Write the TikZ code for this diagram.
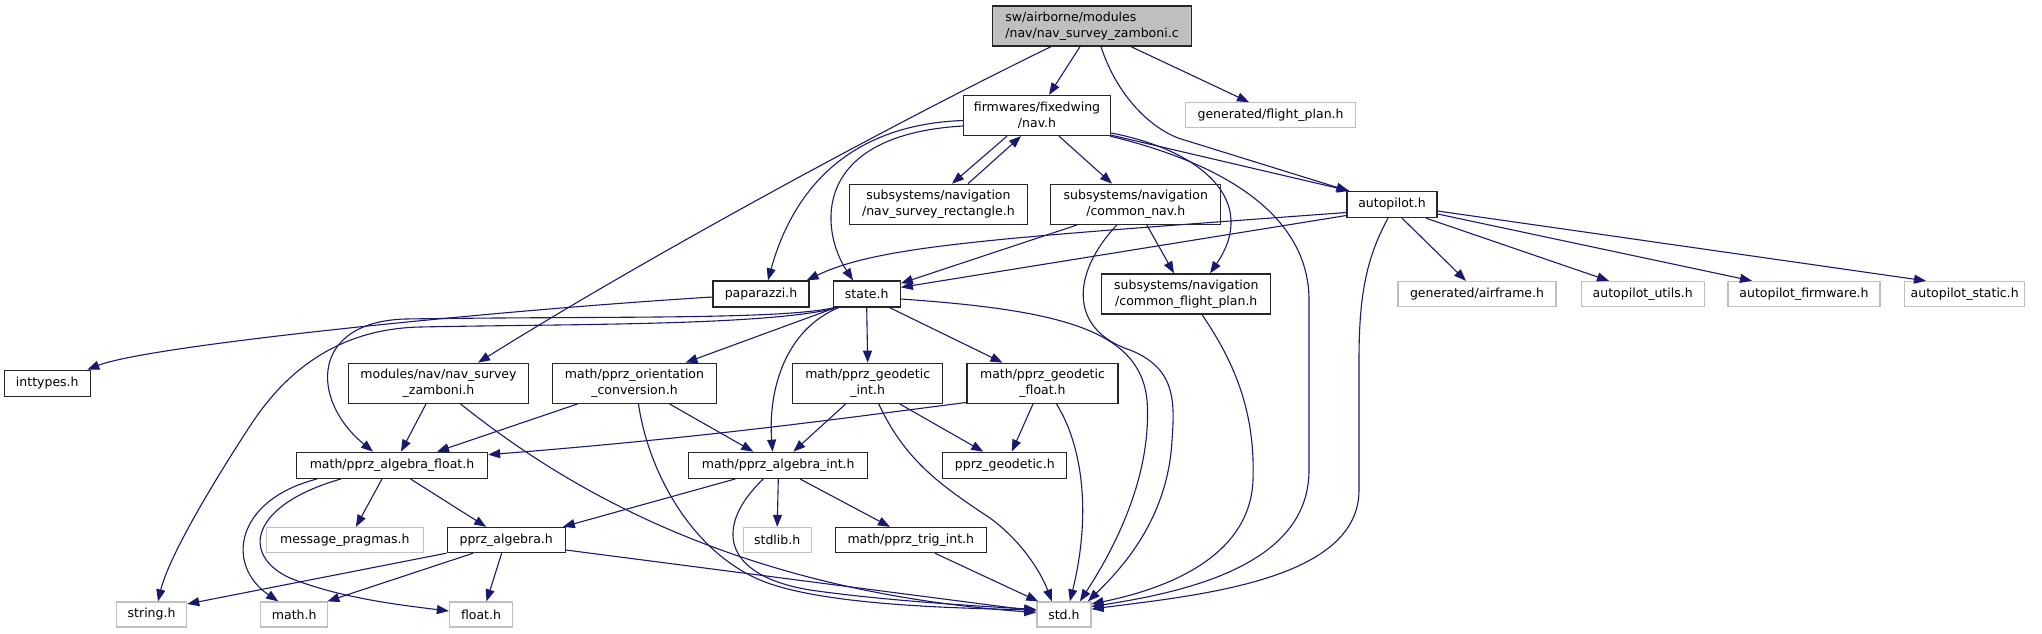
\documentclass[tikz,border=0pt]{standalone}
\usepackage{fontspec}
\newfontfamily\nodefont{DejaVu Sans}
\usetikzlibrary{arrows.meta}
\definecolor{edgecol}{HTML}{191970}
\definecolor{rootfill}{HTML}{BFBFBF}
\definecolor{grayline}{HTML}{BFBFBF}
\begin{document}
\begin{tikzpicture}[x=1pt,y=-1pt,
  nd/.style={draw=black!85, line width=1.3pt, fill=white, minimum height=26pt, inner sep=0pt,
    font={\nodefont\fontsize{12.5pt}{15.5pt}\selectfont}, align=center},
  ndd/.style={nd, minimum height=40pt},
  gry/.style={nd, draw=grayline, minimum height=25pt},
  dep/.style={draw=edgecol, line width=1.1pt, -{Triangle[length=12pt,width=9pt]}}]
\useasboundingbox (0,0) rectangle (2042,633);
% nodes
\node[ndd, fill=rootfill, align=left, minimum width=199pt] (root) at (1092,26) {sw/airborne/modules\\/nav/nav\_survey\_zamboni.c};
\node[ndd, minimum width=147pt] (nav) at (1037,115.5) {firmwares/fixedwing\\/nav.h};
\node[gry, minimum width=170pt] (fplan) at (1270.6,115.3) {generated/flight\_plan.h};
\node[ndd, minimum width=178pt] (rect) at (938.4,204.3) {subsystems/navigation\\/nav\_survey\_rectangle.h};
\node[ndd, minimum width=170pt] (cnav) at (1135.8,204.3) {subsystems/navigation\\/common\_nav.h};
\node[nd, minimum width=90pt] (autopilot) at (1392,204.5) {autopilot.h};
\node[nd, minimum width=96pt] (paparazzi) at (761,294) {paparazzi.h};
\node[nd, minimum width=67pt] (state) at (866.7,294) {state.h};
\node[ndd, minimum width=169pt] (cfp) at (1186.3,294) {subsystems/navigation\\/common\_flight\_plan.h};
\node[gry, minimum width=158pt] (airframe) at (1477,294) {generated/airframe.h};
\node[gry, minimum width=123pt] (aputils) at (1642.7,294) {autopilot\_utils.h};
\node[gry, minimum width=152pt] (apfirm) at (1804,294) {autopilot\_firmware.h};
\node[gry, minimum width=120pt] (apstatic) at (1964.7,294) {autopilot\_static.h};
\node[nd, minimum width=86pt] (inttypes) at (47.3,383.3) {inttypes.h};
\node[ndd, minimum width=180pt] (zamboni) at (438.5,383.3) {modules/nav/nav\_survey\\\_zamboni.h};
\node[ndd, minimum width=164pt] (orient) at (634.5,383.3) {math/pprz\_orientation\\\_conversion.h};
\node[ndd, minimum width=150pt] (geoint) at (867.7,383.3) {math/pprz\_geodetic\\\_int.h};
\node[ndd, minimum width=151pt] (geofloat) at (1042.5,383.3) {math/pprz\_geodetic\\\_float.h};
\node[nd, minimum width=191pt] (algfloat) at (392,465.3) {math/pprz\_algebra\_float.h};
\node[nd, minimum width=179pt] (algint) at (778.3,465.3) {math/pprz\_algebra\_int.h};
\node[nd, minimum width=124pt] (geodetic) at (1004.8,465.3) {pprz\_geodetic.h};
\node[gry, minimum width=157pt] (msgpr) at (344.9,540) {message\_pragmas.h};
\node[nd, minimum width=118pt, minimum height=25pt] (pprzalg) at (506.2,540) {pprz\_algebra.h};
\node[gry, minimum width=68pt] (stdlib) at (777.2,540) {stdlib.h};
\node[nd, minimum width=151pt, minimum height=25pt] (trigint) at (910.8,540) {math/pprz\_trig\_int.h};
\node[gry, minimum width=70pt] (string) at (151.6,614.5) {string.h};
\node[gry, minimum width=67pt] (math) at (294.2,614.5) {math.h};
\node[gry, minimum width=63pt] (float) at (481,614.5) {float.h};
\node[gry, minimum width=54pt] (std) at (1063.9,614.5) {std.h};
% edges from root
\draw[dep] ([xshift=-12pt]root.south) -- ([xshift=12pt]nav.north);
\draw[dep] ([xshift=39pt]root.south) -- ([xshift=-21.6pt]fplan.north);
\draw[dep] ([xshift=9pt]root.south) .. controls (1115,90) and (1145,125) .. (1178,138) -- ([xshift=2pt]autopilot.north west);
\draw[dep] ([xshift=-41pt]root.south) .. controls (900,120) and (650,255) .. ([xshift=39.5pt]zamboni.north);
% nav
\draw[dep] ([xshift=-30pt]nav.south) -- ([xshift=13.6pt]rect.north);
\draw[dep] ([xshift=29.6pt]rect.north) -- ([xshift=-16pt]nav.south);
\draw[dep] ([xshift=22pt]nav.south) -- ([xshift=-23.8pt]cnav.north);
\draw[dep] ([yshift=-5pt]nav.west) .. controls (840,125) and (790,200) .. ([xshift=7pt]paparazzi.north);
\draw[dep] ([yshift=-10.5pt]nav.west) .. controls (810,135) and (820,230) .. ([xshift=-13.7pt]state.north);
\draw[dep] ([yshift=-17.5pt]nav.east) .. controls (1200,150) and (1260,200) .. ([xshift=23.7pt]cfp.north);
\draw[dep] ([xshift=-1pt]nav.south east) .. controls (1250,170) and (1309,230) .. (1309,300) -- (1309,470) .. controls (1309,560) and (1200,590) .. ([yshift=8pt]std.east);
\draw[dep] ([yshift=1pt]nav.south east) -- ([xshift=3pt]autopilot.north west);
% common_nav
\draw[dep] ([xshift=-58.8pt]cnav.south) -- ([yshift=-3pt]state.north east);
\draw[dep] ([xshift=11pt]cnav.south) -- ([xshift=-12.3pt]cfp.north);
\draw[dep] ([xshift=-19pt]cnav.south) .. controls (1070,275) and (1070,330) .. (1130,350) .. controls (1175,368) and (1175,400) .. (1172,440) .. controls (1168,520) and (1120,570) .. ([xshift=24pt]std.north);
% common_flight_plan
\draw[dep] ([xshift=15.7pt]cfp.south) .. controls (1240,370) and (1255,420) .. (1253,480) .. controls (1250,560) and (1160,590) .. ([yshift=10.5pt]std.east);
% autopilot
\draw[dep] ([xshift=-4pt]autopilot.south) .. controls (1365,260) and (1359,300) .. (1359,360) -- (1359,490) .. controls (1359,580) and (1200,595) .. ([yshift=5.5pt]std.east);
\draw[dep] ([yshift=-8pt]autopilot.west) .. controls (1000,238) and (880,245) .. ([xshift=-3pt]paparazzi.north east);
\draw[dep] ([yshift=-11pt]autopilot.west) -- ([yshift=-7pt]state.north east);
\draw[dep] ([xshift=10pt]autopilot.south) -- ([xshift=-11pt]airframe.north);
\draw[dep] ([xshift=34pt]autopilot.south) -- ([xshift=-33.7pt]aputils.north);
\draw[dep] ([yshift=-9.5pt]autopilot.east) -- ([xshift=-52pt]apfirm.north);
\draw[dep] ([yshift=-6.5pt]autopilot.east) -- ([xshift=-38.7pt]apstatic.north);
% paparazzi
\draw[dep] ([yshift=-3pt]paparazzi.west) .. controls (500,310) and (150,345) .. ([xshift=40pt]inttypes.north);
% state
\draw[dep] ([xshift=3pt]state.south west) -- ([xshift=51pt]orient.north);
\draw[dep] ([xshift=6pt]state.south west) .. controls (785,330) and (768,390) .. ([xshift=-5.8pt]algint.north);
\draw[dep] (state.south) -- (geoint.north);
\draw[dep] ([xshift=23pt]state.south) -- ([xshift=-40pt]geofloat.north);
\draw[dep] ([yshift=-5pt]state.east) .. controls (1060,310) and (1140,330) .. (1147,400) .. controls (1152,470) and (1120,540) .. ([xshift=16pt]std.north);
\draw[dep] ([xshift=1.5pt]state.south west) .. controls (780,320) and (600,316) .. (405,319) .. controls (310,322) and (310,400) .. ([xshift=-19pt]algfloat.north);
\draw[dep] ([xshift=1pt,yshift=-1pt]state.south west) .. controls (760,326) and (560,324) .. (420,327) .. controls (330,329) and (280,380) .. (250,426) .. controls (205,495) and (168,560) .. ([xshift=6.4pt]string.north);
% zamboni
\draw[dep] ([xshift=-12.5pt]zamboni.south) -- ([xshift=9pt]algfloat.north);
\draw[dep] ([xshift=22pt]zamboni.south) .. controls (550,475) and (720,590) .. ([yshift=2pt]std.west);
% orientation
\draw[dep] ([xshift=-57pt]orient.south) -- ([xshift=45pt]algfloat.north);
\draw[dep] ([xshift=35pt]orient.south) -- ([xshift=-25pt]algint.north);
\draw[dep] ([xshift=4pt]orient.south) .. controls (648,470) and (690,550) .. (760,580) .. controls (820,605) and (950,608) .. ([yshift=4.5pt]std.west);
% geodetic int
\draw[dep] ([xshift=-22pt]geoint.south) -- ([xshift=15pt]algint.north);
\draw[dep] ([xshift=32pt]geoint.south) -- ([xshift=-21.5pt]geodetic.north);
\draw[dep] ([xshift=11pt]geoint.south) .. controls (905,460) and (940,485) .. (990,518) .. controls (1020,540) and (1040,570) .. ([xshift=-12pt]std.north);
% geodetic float
\draw[dep] ([yshift=1.5pt]geofloat.south west) .. controls (830,420) and (700,438) .. ([yshift=-3pt]algfloat.north east);
\draw[dep] ([xshift=-9.5pt]geofloat.south) -- ([xshift=7pt]geodetic.north);
\draw[dep] ([xshift=14pt]geofloat.south) .. controls (1085,450) and (1090,520) .. ([xshift=6pt]std.north);
% algebra float
\draw[dep] ([xshift=-10pt]algfloat.south) -- ([xshift=11pt]msgpr.north);
\draw[dep] ([xshift=18.5pt]algfloat.south) -- ([xshift=-20pt]pprzalg.north);
\draw[dep] ([xshift=-75pt]algfloat.south) .. controls (235,500) and (225,565) .. ([xshift=-16pt]math.north);
\draw[dep] ([xshift=-51pt]algfloat.south) .. controls (250,505) and (240,555) .. (290,578) .. controls (340,598) and (400,605) .. ([yshift=3.5pt]float.west);
% pprz_algebra
\draw[dep] (pprzalg.south west) -- ([yshift=10.5pt]string.east);
\draw[dep] ([xshift=-33pt]pprzalg.south) -- ([xshift=-1pt]math.north east);
\draw[dep] ([xshift=-4.5pt]pprzalg.south) -- ([xshift=5.5pt]float.north);
\draw[dep] ([yshift=-10pt]pprzalg.east) -- ([yshift=3.5pt]std.west);
% algebra int
\draw[dep] ([xshift=-43pt]algint.south) -- ([xshift=-3pt]pprzalg.north east);
\draw[dep] (algint.south) -- (stdlib.north);
\draw[dep] ([xshift=21.7pt]algint.south) -- ([xshift=-20.8pt]trigint.north);
\draw[dep] ([xshift=-15pt]algint.south) .. controls (715,525) and (720,575) .. (810,590) .. controls (880,600) and (960,605) .. ([yshift=5pt]std.west);
% trig int
\draw[dep] ([xshift=24pt]trigint.south) -- ([xshift=2pt]std.north west);
\end{tikzpicture}
\end{document}
